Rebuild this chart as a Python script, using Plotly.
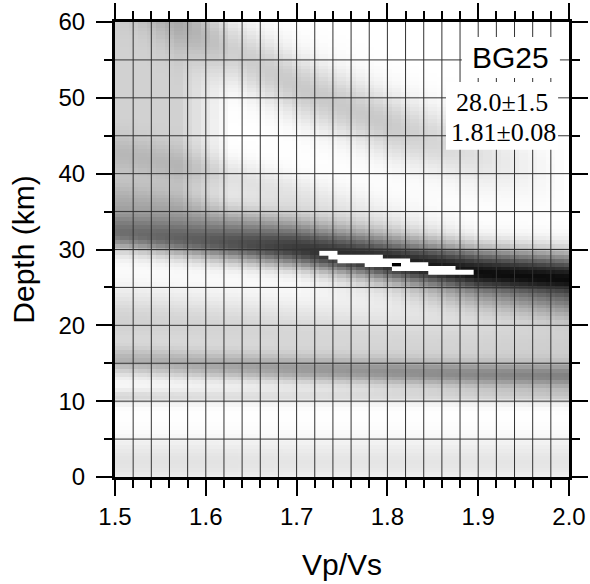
import numpy as np
import plotly.graph_objects as go

# ---- grid of the stack (Vp/Vs, depth) ----
kappa = np.round(np.arange(1.50, 2.0001, 0.01), 2)
depth = np.round(np.arange(0.0, 60.001, 0.5), 1)

# band trends at these Vp/Vs nodes
K_NODES = [1.5, 1.6, 1.7, 1.8, 1.9, 2.0]

A_center = [66.0, 58.0, 51.5, 46.5, 42.5, 39.5]
A_amp = [0.12, 0.18, 0.21, 0.21, 0.12, 0.00]

B1_center = [42.7, 40.4, 37.3, 35.0, 33.5, 32.5]
B1_amp = [0.10, 0.12, 0.10, 0.04, 0.00, 0.00]

B2_center = [36.5, 34.8, 33.2, 31.8, 30.5, 29.5]
B2_amp = [0.15, 0.16, 0.16, 0.10, 0.00, 0.00]

C_center = [32.2, 31.0, 29.9, 28.3, 27.1, 26.4]
C_amp = [0.55, 0.62, 0.74, 0.85, 0.88, 0.86]

D_center = [28.0, 27.0, 26.0, 25.0, 24.0, 23.2]
D_amp = [0.00, 0.00, 0.00, 0.08, 0.28, 0.40]

F_center = [20.5, 19.8, 18.8, 18.0, 17.6, 17.3]
F_amp = [0.18, 0.17, 0.16, 0.16, 0.17, 0.19]

E_center = [15.3, 14.7, 14.2, 13.8, 13.4, 13.2]
E_amp = [0.26, 0.30, 0.34, 0.37, 0.40, 0.42]

G_center = [10.6, 10.6, 10.6, 10.6, 10.6, 10.6]
G_amp = [0.16, 0.13, 0.12, 0.12, 0.13, 0.15]

H_center = [2.0, 2.0, 2.0, 2.0, 2.0, 2.0]
H_amp = [0.11, 0.11, 0.10, 0.10, 0.10, 0.10]

HAZE_LEVEL = 0.18

# confidence region (white cells) and best value
region_depth = [29.5, 29.0, 28.5, 28.0, 27.5, 27.0]
region_kmin = [1.73, 1.74, 1.75, 1.78, 1.81, 1.85]
region_kmax = [1.74, 1.79, 1.82, 1.84, 1.87, 1.89]
best_kappa = 1.81
best_depth = 28.0

station = "BG25"
result_depth = "28.0±1.5"
result_kappa = "1.81±0.08"

x_ticks = [1.5, 1.6, 1.7, 1.8, 1.9, 2.0]
y_ticks = [0, 10, 20, 30, 40, 50, 60]

# ---- build the image ----
K, Hd = np.meshgrid(kappa, depth)


def band(centers, amps, sig_up, sig_dn):
    c = np.interp(K, K_NODES, centers)
    a = np.interp(K, K_NODES, amps)
    d = Hd - c
    s = np.where(d > 0, sig_up, sig_dn)
    return a * np.exp(-0.5 * (d / s) ** 2)


z = (band(A_center, A_amp, 3.0, 3.0)
     + band(B1_center, B1_amp, 1.8, 1.8)
     + band(B2_center, B2_amp, 1.8, 1.8)
     + band(C_center, C_amp, 2.2, 1.6)
     + band(D_center, D_amp, 1.8, 1.8)
     + band(F_center, F_amp, 3.0, 3.0)
     + band(E_center, E_amp, 1.3, 1.3)
     + band(G_center, G_amp, 0.7, 0.7)
     + band(H_center, H_amp, 2.2, 2.2))
c_line = np.interp(K, K_NODES, C_center)
haze = HAZE_LEVEL * np.clip((1.63 - K) / 0.06, 0, 1) / (1 + np.exp(-(Hd - (c_line + 4.0))))
z = np.clip(z + haze, 0, 1)

fig = go.Figure()
fig.add_trace(go.Heatmap(
    x=kappa, y=depth, z=z, zmin=0, zmax=1,
    colorscale=[[0, "#ffffff"], [1, "#000000"]],
    showscale=False, zsmooth=False, hoverinfo="skip"))

shapes = []
# grid lines above the image
for kv in np.round(np.arange(1.52, 1.99, 0.02), 2):
    shapes.append(dict(type="line", xref="x", yref="y", x0=kv, x1=kv, y0=0, y1=60,
                       line=dict(color="#333333", width=1), layer="above"))
for dv in range(5, 60, 5):
    shapes.append(dict(type="line", xref="x", yref="y", x0=1.5, x1=2.0, y0=dv, y1=dv,
                       line=dict(color="#333333", width=1), layer="above"))
# confidence region (rows overlap slightly so no seams appear)
for dv, k0, k1 in zip(region_depth, region_kmin, region_kmax):
    shapes.append(dict(type="rect", xref="x", yref="y", x0=k0 - 0.005, x1=k1 + 0.005,
                       y0=dv - 0.32, y1=dv + 0.32, fillcolor="white",
                       line=dict(width=0), layer="above"))
shapes.append(dict(type="rect", xref="x", yref="y", x0=best_kappa - 0.005, x1=best_kappa + 0.005,
                   y0=best_depth - 0.22, y1=best_depth + 0.22, fillcolor="black",
                   line=dict(width=0), layer="above"))
# label boxes
shapes.append(dict(type="rect", xref="paper", yref="paper", x0=0.764, x1=0.980, y0=0.877, y1=0.967,
                   fillcolor="white", line=dict(width=0), layer="above"))
shapes.append(dict(type="rect", xref="paper", yref="paper", x0=0.729, x1=0.976, y0=0.719, y1=0.868,
                   fillcolor="white", line=dict(width=0), layer="above"))

annotations = [
    dict(text=station, xref="paper", yref="paper", x=0.871, y=0.923, xanchor="center", yanchor="middle",
         showarrow=False, font=dict(family="Liberation Sans, Arial", size=30, color="black")),
    dict(text=result_depth, xref="paper", yref="paper", x=0.852, y=0.822, xanchor="center", yanchor="middle",
         showarrow=False, font=dict(family="Liberation Serif, Times New Roman", size=26, color="black")),
    dict(text=result_kappa, xref="paper", yref="paper", x=0.856, y=0.757, xanchor="center", yanchor="middle",
         showarrow=False, font=dict(family="Liberation Serif, Times New Roman", size=26, color="black")),
]

axis_common = dict(showline=True, linewidth=3, linecolor="black", mirror="ticks",
                   ticks="outside", ticklen=16, tickwidth=2, tickcolor="black",
                   showgrid=False, zeroline=False, automargin=False,
                   tickfont=dict(family="Liberation Sans, Arial", size=24, color="black"))

fig.update_layout(
    width=590, height=584,
    margin=dict(l=115, r=21, t=22, b=107),
    paper_bgcolor="white", plot_bgcolor="white",
    shapes=shapes, annotations=annotations,
    xaxis=dict(range=[1.5, 2.0], tickvals=x_ticks, ticktext=[f"{v:.1f}" for v in x_ticks],
               minor=dict(dtick=0.02, tick0=1.5, ticks="outside", ticklen=8, tickwidth=2, tickcolor="black"),
               title=dict(text="Vp/Vs", font=dict(family="Liberation Sans, Arial", size=30, color="black"),
                          standoff=26),
               **axis_common),
    yaxis=dict(range=[0, 60], tickvals=y_ticks, ticktext=[str(v) for v in y_ticks],
               ticklabelstandoff=6,
               minor=dict(dtick=5, tick0=0, ticks="outside", ticklen=8, tickwidth=2, tickcolor="black"),
               title=dict(text="Depth (km)", font=dict(family="Liberation Sans, Arial", size=30, color="black"),
                          standoff=15),
               **axis_common),
)

fig.write_html("out.html")
